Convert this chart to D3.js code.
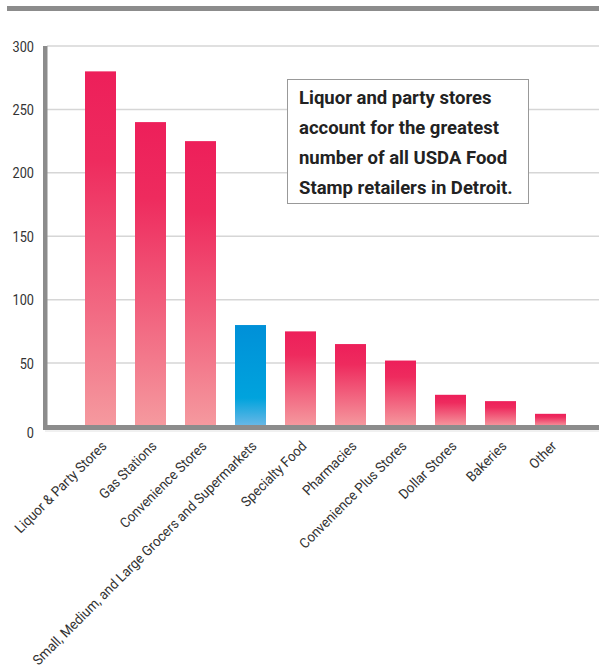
<!DOCTYPE html>
<html>
<head>
<meta charset="utf-8">
<script src="https://cdn.jsdelivr.net/npm/d3@7.9.0/dist/d3.min.js"></script>
<style>
  body { margin: 0; background: #fff; }
  svg { display: block; }
  .cond { font-family: Roboto, "DejaVu Sans Condensed", sans-serif; }
</style>
</head>
<body>
<svg id="chart" width="599" height="668"></svg>
<script>
// data
const categories = [
  'Liquor & Party Stores', 'Gas Stations', 'Convenience Stores',
  'Small, Medium, and Large Grocers and Supermarkets', 'Specialty Food',
  'Pharmacies', 'Convenience Plus Stores', 'Dollar Stores', 'Bakeries', 'Other'
];
const counts = [280, 240, 225, 80, 75, 65, 52, 25, 20, 10];
const highlighted = ['Small, Medium, and Large Grocers and Supermarkets'];
const yTicks = [0, 50, 100, 150, 200, 250, 300];
const note = [
  'Liquor and party stores',
  'account for the greatest',
  'number of all USDA Food',
  'Stamp retailers in Detroit.'
];

// no condensed face installed, so squeeze Roboto horizontally
const squeezeTicks = 0.82;
const squeezeLabels = 0.94;

const svg = d3.select('#chart');

const x = d3.scaleBand()
  .domain(categories)
  .range([75.5, 575.5])
  .paddingInner(0.38)
  .paddingOuter(0.19);

const y = d3.scaleLinear().domain([0, 300]).range([426.5, 46]);

// gradients for the bars
const defs = svg.append('defs');
let red = defs.append('linearGradient').attr('id', 'redGrad')
  .attr('x1', 0).attr('y1', 0).attr('x2', 0).attr('y2', 1);
red.append('stop').attr('offset', 0).attr('stop-color', '#ed1f5a');
red.append('stop').attr('offset', 0.25).attr('stop-color', '#ee2b5e');
red.append('stop').attr('offset', 1).attr('stop-color', '#f59a9f');

let blue = defs.append('linearGradient').attr('id', 'blueGrad')
  .attr('x1', 0).attr('y1', 0).attr('x2', 0).attr('y2', 1);
blue.append('stop').attr('offset', 0).attr('stop-color', '#0090d8');
blue.append('stop').attr('offset', 0.72).attr('stop-color', '#00a3dd');
blue.append('stop').attr('offset', 1).attr('stop-color', '#6cb8e6');

// top banner line
svg.append('rect').attr('x', 7).attr('y', 6).attr('width', 592).attr('height', 5)
  .attr('fill', '#8c8c8c');

// gridlines
svg.append('g')
  .selectAll('line')
  .data(yTicks.filter(d => d > 0))
  .join('line')
  .attr('x1', 47).attr('x2', 599)
  .attr('y1', d => y(d)).attr('y2', d => y(d))
  .attr('stroke', '#d6d6d6').attr('stroke-width', 1.5);

// y tick labels
svg.append('g')
  .selectAll('text')
  .data(yTicks)
  .join('text')
  .attr('class', 'cond')
  .attr('text-anchor', 'end')
  .attr('font-size', 15.5)
  .attr('fill', '#333')
  .attr('transform', d => `translate(34,${y(d) + 5.5 + (d === 0 ? 6 : 0)}) scale(${squeezeTicks},1)`)
  .text(d => d);

// bars
svg.append('g')
  .selectAll('rect')
  .data(categories)
  .join('rect')
  .attr('x', d => x(d))
  .attr('width', x.bandwidth())
  .attr('y', (d, i) => y(counts[i]))
  .attr('height', (d, i) => y(0) - y(counts[i]))
  .attr('fill', d => highlighted.includes(d) ? 'url(#blueGrad)' : 'url(#redGrad)');

// axes lines
svg.append('rect').attr('x', 43).attr('y', 46).attr('width', 4.5).attr('height', 384)
  .attr('fill', '#8c8c8c');
svg.append('rect').attr('x', 43).attr('y', 425).attr('width', 556).attr('height', 5)
  .attr('fill', '#8c8c8c');
svg.append('line').attr('x1', 45).attr('x2', 599).attr('y1', 431).attr('y2', 431)
  .attr('stroke', '#e2e2e2').attr('stroke-width', 1);

// category labels
svg.append('g')
  .selectAll('text')
  .data(categories)
  .join('text')
  .attr('class', 'cond')
  .attr('text-anchor', 'end')
  .attr('font-size', 14)
  .attr('fill', '#333')
  .attr('transform', d => `translate(${x(d) + x.bandwidth() / 2 + 7},${447}) rotate(-45) scale(${squeezeLabels},1)`)
  .text(d => d);

// annotation box
const box = svg.append('g');
box.append('rect')
  .attr('x', 287.5).attr('y', 79.5).attr('width', 241).attr('height', 124)
  .attr('fill', '#fff').attr('stroke', '#999').attr('stroke-width', 1);
box.selectAll('text')
  .data(note)
  .join('text')
  .attr('class', 'cond')
  .attr('font-size', 18.5)
  .attr('font-weight', 'bold')
  .attr('fill', '#222')
  .attr('transform', (d, i) => `translate(299,${103.5 + i * 30})`)
  .text(d => d);
</script>
</body>
</html>
